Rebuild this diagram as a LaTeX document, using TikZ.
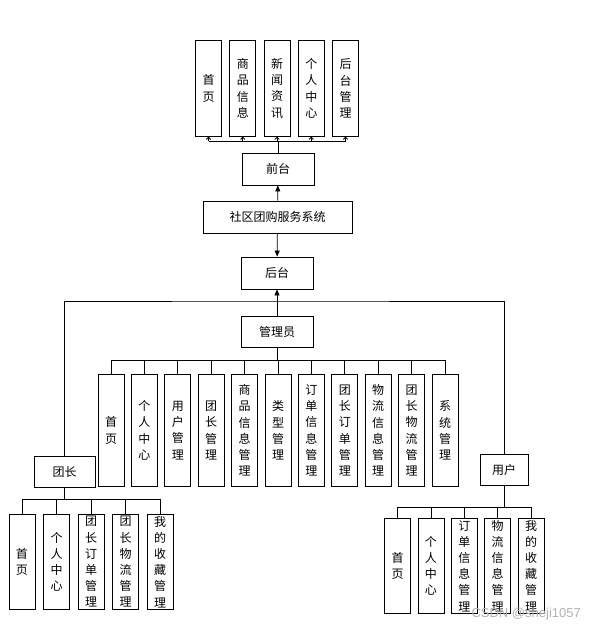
\documentclass[tikz,border=0pt]{standalone}
\usepackage{fontspec}
\newfontfamily\cjk{Noto Sans CJK SC}
\newfontfamily\marksans{Liberation Sans}
\usetikzlibrary{arrows.meta}
\tikzset{
  box/.style={draw, line width=0.8pt, inner sep=1pt, align=center, font=\cjk\fontsize{12}{16.2}\selectfont},
  col/.style={box, inner ysep=0pt, minimum width=26pt, anchor=north},
  link/.style={line width=0.8pt},
  up/.style={link, -{Triangle[length=6pt,width=5pt]}},
  thin up/.style={link, -{To[length=3pt,width=5pt]}}
}
\begin{document}
\begin{tikzpicture}[x=1pt,y=-1pt]
    \useasboundingbox (0,0) rectangle (605,629);
    % main chain
    \node[box, minimum width=72pt, minimum height=32pt] (front) at (278,169) {前台};
    \node[box, minimum width=149pt, minimum height=32pt] (sys) at (277.5,217) {社区团购服务系统};
    \node[box, minimum width=72pt, minimum height=32pt] (back) at (277,273) {后台};
    \node[box, minimum width=72pt, minimum height=31pt] (admin) at (277,331.5) {管理员};
    \node[box, minimum width=61pt, minimum height=31pt] (leader) at (64.5,471.5) {团长};
    \node[box, minimum width=48pt, minimum height=31pt] (user) at (504,469.5) {用户};
    \draw[up] (sys) -- (front);
    \draw[up] (sys) -- (back);
    \draw[up] (admin) -- (back);
    \coordinate (split) at (277,301);
    \draw[link] (leader.north) |- (split) -| (user.north);
    % front end pages
    \foreach \i/\t in {0/{首\\页},1/{商\\品\\信\\息},2/{新\\闻\\资\\讯},3/{个\\人\\中\\心},4/{后\\台\\管\\理}}
        \node[col, minimum height=96pt] (f\i) at (208.5+34.25*\i,40) {\t};
    \coordinate (fbus) at (0,141);
    \draw[link] (front) -- (front.north |- fbus);
    \draw[link] (f0.south |- fbus) -- (f4.south |- fbus);
    \foreach \i in {0,...,4}
        \draw[thin up] (f\i.south |- fbus) -- (f\i.south);
    % admin modules
    \foreach \i/\t in {0/{首\\页},1/{个\\人\\中\\心},2/{用\\户\\管\\理},3/{团\\长\\管\\理},4/{商\\品\\信\\息\\管\\理},5/{类\\型\\管\\理},6/{订\\单\\信\\息\\管\\理},7/{团\\长\\订\\单\\管\\理},8/{物\\流\\信\\息\\管\\理},9/{团\\长\\物\\流\\管\\理},10/{系\\统\\管\\理}}
        \node[col, minimum height=112pt] (a\i) at (111+33.4*\i,374) {\t};
    \coordinate (abus) at (0,360);
    \draw[link] (admin) -- (admin.south |- abus);
    \draw[link] (a0.north |- abus) -- (a10.north |- abus);
    \foreach \i in {0,...,10}
        \draw[link] (a\i.north |- abus) -- (a\i.north);
    % leader modules
    \foreach \i/\t in {0/{首\\页},1/{个\\人\\中\\心},2/{团\\长\\订\\单\\管\\理},3/{团\\长\\物\\流\\管\\理},4/{我\\的\\收\\藏\\管\\理}}
        \node[col, minimum height=95pt] (l\i) at (22+34.5*\i,514) {\t};
    \coordinate (lbus) at (0,499);
    \draw[link] (leader) -- (leader.south |- lbus);
    \draw[link] (l0.north |- lbus) -- (l4.north |- lbus);
    \foreach \i in {0,...,4}
        \draw[link] (l\i.north |- lbus) -- (l\i.north);
    % user modules
    \foreach \i/\t in {0/{首\\页},1/{个\\人\\中\\心},2/{订\\单\\信\\息\\管\\理},3/{物\\流\\信\\息\\管\\理},4/{我\\的\\收\\藏\\管\\理}}
        \node[col, minimum height=95pt] (u\i) at (397.5+33.4*\i,518) {\t};
    \coordinate (ubus) at (0,507);
    \draw[link] (user) -- (user.south |- ubus);
    \draw[link] (u0.north |- ubus) -- (u4.north |- ubus);
    \foreach \i in {0,...,4}
        \draw[link] (u\i.north |- ubus) -- (u\i.north);
    \node[text=black!30, font=\marksans\fontsize{13}{13}\selectfont, anchor=base west] (mark) at (468,617) {CSDN @sheji1057};
\end{tikzpicture}
\end{document}
